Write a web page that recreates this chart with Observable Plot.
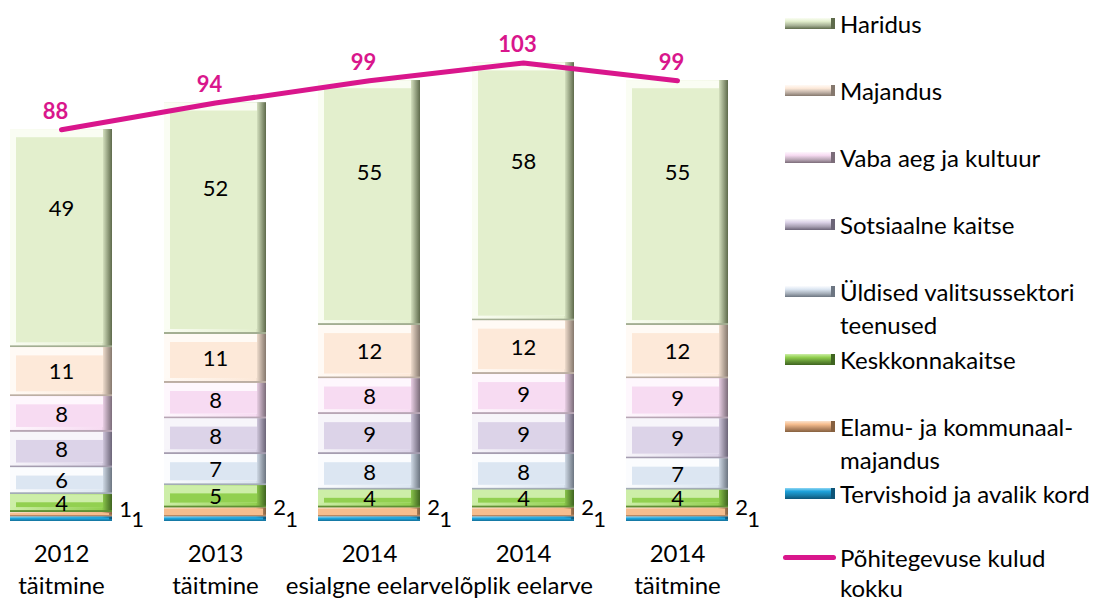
<!DOCTYPE html>
<html><head><meta charset="utf-8">
<script src="https://cdn.jsdelivr.net/npm/d3@7"></script>
<script src="https://cdn.jsdelivr.net/npm/@observablehq/plot@0.6"></script>
<style>
body{margin:0;background:#fff;font-family:Lato,"Open Sans",sans-serif}
#wrap{position:relative;width:1109px;height:603px;overflow:hidden}
#chart{position:absolute;left:0;top:0}
.leg{position:absolute;left:785px;font-size:24px;line-height:22px;color:#000}
.sw{position:absolute;left:0;top:5px;width:50px;height:11px;box-sizing:border-box}
.lt{position:absolute;left:55px;white-space:nowrap;line-height:22px}
</style></head><body>
<div id="wrap"><div id="chart"></div><div id="legend"></div></div>
<script>
// ---- data ----
const periods = ["2012 täitmine","2013 täitmine","2014 esialgne eelarve","2014 lõplik eelarve","2014 täitmine"];
const periodLabels = ["2012\ntäitmine","2013\ntäitmine","2014\nesialgne eelarve","2014\nlõplik eelarve","2014\ntäitmine"];
// stack order, bottom first
const series = ["Tervishoid ja avalik kord","Elamu- ja kommunaalmajandus","Keskkonnakaitse","Üldised valitsussektori teenused","Sotsiaalne kaitse","Vaba aeg ja kultuur","Majandus","Haridus"];
const tervishoid = [1,1,1,1,1];
const elamu      = [1,2,2,2,2];
const keskkond   = [4,5,4,4,4];
const yldised    = [6,7,8,8,7];
const sotsiaal   = [8,8,9,9,9];
const vabaaeg    = [8,8,8,9,9];
const majandus   = [11,11,12,12,12];
const haridus    = [49,52,55,58,55];
const totals     = [88,94,99,103,99];
const totalName  = "Põhitegevuse kulud\nkokku";
const legendLabels = ["Haridus","Majandus","Vaba aeg ja kultuur","Sotsiaalne kaitse","Üldised valitsussektori\nteenused","Keskkonnakaitse","Elamu- ja kommunaal-\nmajandus","Tervishoid ja avalik kord"];

// ---- styles ----
const faceCol = ["#1ea3dc","#f6bd8e","#92d050","#dce6f2","#dcd3e8","#f7dbf2","#fde9d9","#e3efcd"];
const hiCol   = ["#8fd6f4","#fce3cd","#cdeea8","#fbfcfe","#f7f5fa","#fef7fd","#fffaf5","#fafdf3"];
const botCol  = ["#167aa6","#b58661","#5f8f33","#a3acb6","#a59db0","#b8a6b5","#bcaea3","#a3ae92"];
const edgeCol = ["#0d5477","#86603f","#3f6420","#6c7581","#6b6477","#7b6c79","#85786d","#5e6a4b"];
const lineCol = "#d9168c";

const valuesBySeries = [tervishoid, elamu, keskkond, yldised, sotsiaal, vabaaeg, majandus, haridus];
const rows = [];
periods.forEach((p, i) => series.forEach((s, j) => rows.push({period: p, series: s, k: j, value: valuesBySeries[j][i]})));
const totRows = periods.map((p, i) => ({period: p, total: totals[i]}));
const thin = d => d.k < 2;
const topK = series.length - 1;
const st = o => Plot.stackY({x: "period", y: "value", z: "series", ...o});

const plot = Plot.plot({
  width: 770, height: 603,
  marginLeft: 0, marginRight: 32, marginTop: 9, marginBottom: 82,
  style: {fontFamily: "Lato, 'Open Sans', sans-serif", background: "transparent"},
  x: {domain: periods, paddingInner: 0.34, paddingOuter: 0.058, axis: null},
  y: {domain: [0, 115], axis: null},
  color: {type: "identity"},
  marks: [
    // bevelled segments
    Plot.barY(rows, st({fill: d => botCol[d.k]})),
    Plot.barY(rows, st({fill: d => `url(#edge${d.k})`, insetBottom: 2})),
    Plot.barY(rows, st({fill: d => thin(d) ? null : `url(#edge${d.k})`, insetBottom: 5})),
    Plot.barY(rows, st({fill: d => thin(d) ? null : hiCol[d.k], insetBottom: 5, insetRight: 9})),
    Plot.barY(rows, st({fill: d => thin(d) ? null : faceCol[d.k], insetTop: 8, insetLeft: 6, insetRight: 9, insetBottom: 5})),
    Plot.barY(rows, st({fill: d => thin(d) ? faceCol[d.k] : null, insetTop: 1, insetBottom: 1.5, insetRight: 3})),
    // labels
    Plot.text(rows, st({text: d => thin(d) || d.k === topK ? null : d.value, fontSize: 22, fill: "#000"})),
    Plot.text(rows, st({text: d => d.k === topK ? d.value : null, fontSize: 22, fill: "#000", dy: -30})),
    Plot.text(rows, st({text: d => d.k === 1 ? d.value : null, fontSize: 22, fill: "#000", dx: 64, dy: -5})),
    Plot.text(rows, st({text: d => d.k === 0 ? d.value : null, fontSize: 22, fill: "#000", dx: 76, dy: 1})),
    // total line
    Plot.line(totRows, {x: "period", y: "total", stroke: lineCol, strokeWidth: 5}),
    Plot.text(totRows, {x: "period", y: "total", text: "total", fill: lineCol, fontWeight: "bold", fontSize: 22, dx: -6, dy: -18}),
    Plot.axisX({label: null, tickSize: 0, tickPadding: 18, fontSize: 24, lineHeight: 1.33, fill: "#000",
      tickFormat: d => periodLabels[periods.indexOf(d)]})
  ]
});

// gradients for the bevelled right edges
const defs = d3.select(plot).insert("defs", ":first-child");
series.forEach((s, j) => {
  const g = defs.append("linearGradient").attr("id", `edge${j}`).attr("x1", 0).attr("x2", 1).attr("y1", 0).attr("y2", 0);
  g.append("stop").attr("offset", "0%").attr("stop-color", hiCol[j]);
  g.append("stop").attr("offset", "90%").attr("stop-color", faceCol[j]);
  g.append("stop").attr("offset", "100%").attr("stop-color", edgeCol[j]);
});
document.getElementById("chart").appendChild(plot);

// legend
const legend = document.getElementById("legend");
const legendIdx = [7,6,5,4,3,2,1,0];
const addItem = (i, label, swStyle, shift = 0, gap = 33) => {
  const item = document.createElement("div");
  item.className = "leg";
  const cy = 24 + 67.1 * i + shift;
  item.style.top = (cy - 11) + "px";
  const sw = document.createElement("div");
  sw.className = "sw";
  sw.style.cssText = swStyle;
  item.appendChild(sw);
  label.split("\n").forEach((line, li) => {
    const t = document.createElement("div");
    t.className = "lt";
    t.style.top = (li * gap) + "px";
    t.textContent = line;
    item.appendChild(t);
  });
  legend.appendChild(item);
};
legendIdx.forEach((j, i) => addItem(i, legendLabels[i],
  `background:linear-gradient(to bottom, ${hiCol[j]} 0%, ${faceCol[j]} 30%, ${botCol[j]} 70%, ${edgeCol[j]} 100%);border-right:4px solid ${edgeCol[j]}`));
addItem(8, totalName, `left:-2px;top:8px;width:53px;height:5px;border-radius:3px;background:${lineCol}`, -3, 30);
</script>
</body></html>
